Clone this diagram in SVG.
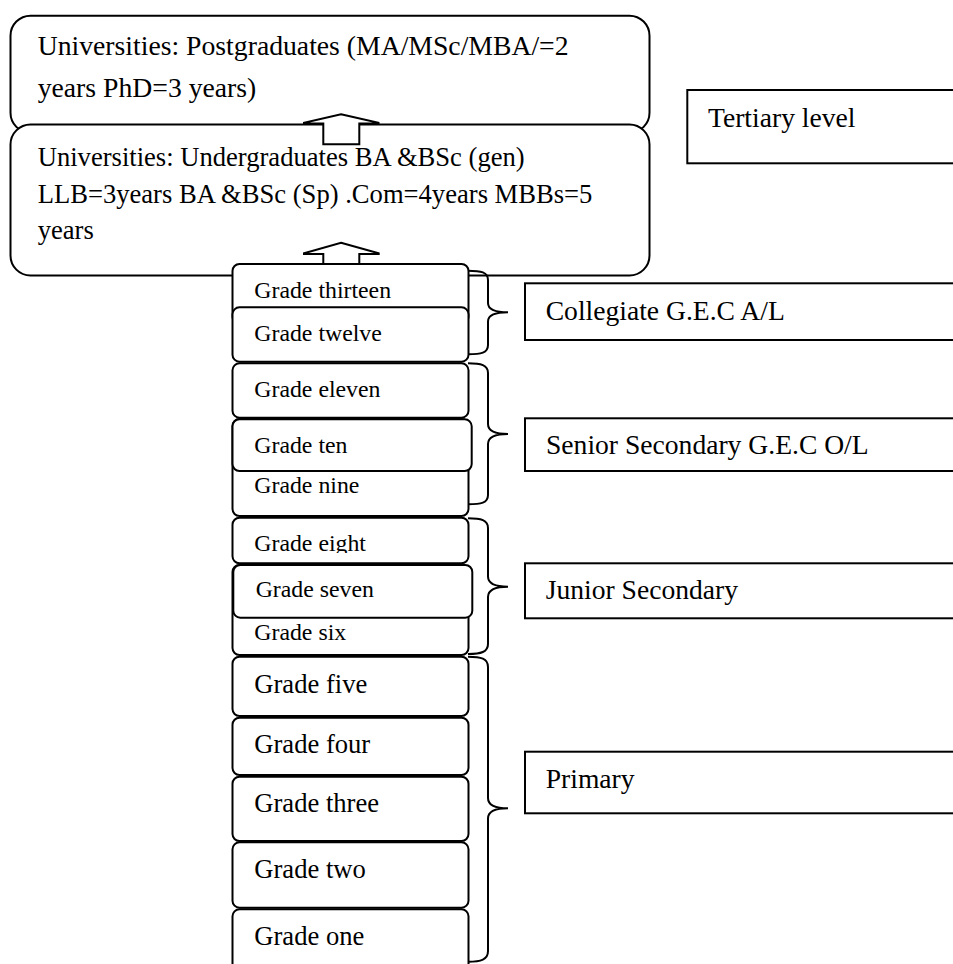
<svg xmlns="http://www.w3.org/2000/svg" width="953" height="964" viewBox="0 0 953 964">
  <style>
    text { font-family: "Liberation Serif", "Times New Roman", serif; fill: #000; }
    .box { fill: #fff; stroke: #000; stroke-width: 2; }
    .lbl { fill: #fff; stroke: #000; stroke-width: 2; }
    .brace { fill: none; stroke: #000; stroke-width: 2; }
    .arrow { fill: #fff; stroke: #000; stroke-width: 2; stroke-linejoin: miter; }
    .uni-pg { font-size: 27.7px; }
    .uni-ug { font-size: 26.6px; }
    .g-sm { font-size: 23.8px; }
    .g-lg { font-size: 26.6px; }
    .tag { font-size: 27.6px; }
  </style>
  <defs>
    <clipPath id="clip-eight">
      <rect x="230" y="515" width="245" height="38"/>
    </clipPath>
  </defs>
  <rect width="953" height="964" fill="#fff"/>

  <!-- university levels -->
  <g id="postgraduates">
    <rect class="box" x="10.5" y="15.7" width="639" height="117" rx="20"/>
    <text class="uni-pg" x="37.7" y="54.5">Universities: Postgraduates (MA/MSc/MBA/=2</text>
    <text class="uni-pg" x="37.7" y="96.7">years PhD=3 years)</text>
  </g>
  <g id="undergraduates">
    <rect class="box" x="10.5" y="124.5" width="639" height="151" rx="20"/>
    <text class="uni-ug" x="37.7" y="166">Universities: Undergraduates BA &amp;BSc (gen)</text>
    <text class="uni-ug" x="37.7" y="202.5">LLB=3years BA &amp;BSc (Sp) .Com=4years MBBs=5</text>
    <text class="uni-ug" x="37.7" y="238.5">years</text>
  </g>

  <!-- block arrows between levels -->
  <g id="connectors">
    <polygon class="arrow" points="341,114.3 378.5,122.7 378.5,123.5 359.3,123.5 359.3,144.3 323.3,144.3 323.3,123.5 304,123.5 304,122.7"/>
    <polygon class="arrow" points="341,242.7 378.7,253.2 378.7,254 359.3,254 359.3,270 323.3,270 323.3,254 304,254 304,253.2"/>
  </g>

  <g id="tertiary">
    <rect class="lbl" x="687.3" y="90" width="280" height="73.3"/>
    <text class="tag" x="708" y="126.7">Tertiary level</text>
  </g>

  <!-- grade stack -->
  <g id="grade-13">
    <rect class="box" x="232.5" y="264" width="236" height="60" rx="7"/>
    <text class="g-sm" x="254.3" y="298.3">Grade thirteen</text>
  </g>
  <g id="grade-12">
    <rect class="box" x="232.5" y="307.3" width="236" height="54.4" rx="7"/>
    <text class="g-sm" x="254.3" y="340.7">Grade twelve</text>
  </g>
  <g id="grade-11">
    <rect class="box" x="232.5" y="363.3" width="236" height="54.4" rx="7"/>
    <text class="g-sm" x="254.3" y="396.7">Grade eleven</text>
  </g>
  <g id="grade-9">
    <rect class="box" x="232.5" y="419" width="236" height="97" rx="7"/>
    <text class="g-sm" x="254.3" y="492.7">Grade nine</text>
  </g>
  <g id="grade-10">
    <rect class="box" x="232.5" y="419.3" width="239.2" height="51.7" rx="7"/>
    <text class="g-sm" x="254.3" y="452.7">Grade ten</text>
  </g>
  <g id="grade-8">
    <rect class="box" x="232.5" y="517.7" width="236" height="45.6" rx="7"/>
    <text class="g-sm" x="254.3" y="551" clip-path="url(#clip-eight)">Grade eight</text>
  </g>
  <g id="grade-6">
    <rect class="box" x="232.5" y="565" width="236" height="90" rx="7"/>
    <text class="g-sm" x="254.3" y="640">Grade six</text>
  </g>
  <g id="grade-7">
    <rect class="box" x="233.3" y="565" width="239" height="52.7" rx="7"/>
    <text class="g-sm" x="255.7" y="596.7">Grade seven</text>
  </g>
  <g id="grade-5">
    <rect class="box" x="232.5" y="656.7" width="236" height="59.3" rx="7"/>
    <text class="g-lg" x="254.3" y="693.3">Grade five</text>
  </g>
  <g id="grade-4">
    <rect class="box" x="232.5" y="717.7" width="236" height="57.3" rx="7"/>
    <text class="g-lg" x="254.3" y="753">Grade four</text>
  </g>
  <g id="grade-3">
    <rect class="box" x="232.5" y="776.7" width="236" height="64.3" rx="7"/>
    <text class="g-lg" x="254.3" y="811.7">Grade three</text>
  </g>
  <g id="grade-2">
    <rect class="box" x="232.5" y="842.3" width="236" height="65.4" rx="7"/>
    <text class="g-lg" x="254.3" y="878.3">Grade two</text>
  </g>
  <g id="grade-1">
    <rect class="box" x="232.5" y="909.3" width="236" height="70" rx="7"/>
    <text class="g-lg" x="254.3" y="945">Grade one</text>
  </g>

  <!-- curly braces grouping the grades -->
  <g id="braces">
    <path class="brace" d="M468,270.7 C481,270.7 488,272 488,280 L488,303 C488,309 495,312.3 508,312.3 C495,312.3 488,315.5 488,321.5 L488,345 C488,353 481,354.3 468,354.3"/>
    <path class="brace" d="M468,363.3 C481,363.3 488,365 488,373 L488,424 C488,430.5 495,434 508,434 C495,434 488,437.5 488,444 L488,495 C488,503 481,504.3 468,504.3"/>
    <path class="brace" d="M468,518.3 C481,518.3 488,520 488,528 L488,576.5 C488,583 495,586.7 508,586.7 C495,586.7 488,590.4 488,597 L488,644 C488,652 481,654 468,654"/>
    <path class="brace" d="M468,656.7 C481,656.7 488,658.5 488,667 L488,798 C488,804.5 495,808.3 508,808.3 C495,808.3 488,812 488,818.5 L488,951 C488,959.5 481,961.7 468,961.7"/>
  </g>

  <!-- stage labels -->
  <g id="collegiate">
    <rect class="lbl" x="525" y="283.3" width="440" height="56.7"/>
    <text class="tag" x="545.7" y="320">Collegiate G.E.C A/L</text>
  </g>
  <g id="senior-secondary">
    <rect class="lbl" x="525" y="418.3" width="440" height="52.7"/>
    <text class="tag" x="546" y="454">Senior Secondary G.E.C O/L</text>
  </g>
  <g id="junior-secondary">
    <rect class="lbl" x="525" y="563.3" width="440" height="55"/>
    <text class="tag" x="545.7" y="599.3">Junior Secondary</text>
  </g>
  <g id="primary">
    <rect class="lbl" x="525" y="751.7" width="440" height="61.6"/>
    <text class="tag" x="545.7" y="788.3">Primary</text>
  </g>
</svg>
